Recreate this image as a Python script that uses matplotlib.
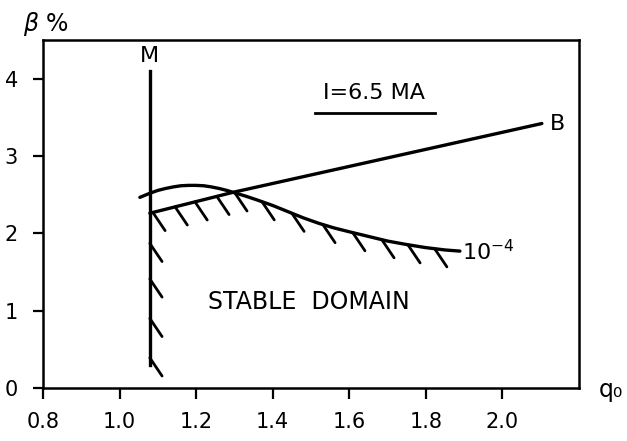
"""
Stability diagram: beta (%) versus q0 for I = 6.5 MA, with the stable domain hatched.
"""

import numpy as np
import matplotlib
matplotlib.use("Agg")
import matplotlib.pyplot as plt

# curve 10^-4 (q0, beta %)
q_curve = [1.053, 1.08, 1.10, 1.12, 1.14, 1.16, 1.18, 1.20, 1.22, 1.24, 1.26, 1.28, 1.30,
           1.33, 1.36, 1.40, 1.44, 1.48, 1.52, 1.56, 1.60, 1.65, 1.70, 1.75, 1.80, 1.85, 1.889]
b_curve = [2.465, 2.52, 2.555, 2.58, 2.60, 2.615, 2.62, 2.62, 2.615, 2.60, 2.58, 2.555, 2.525,
           2.48, 2.43, 2.36, 2.28, 2.20, 2.13, 2.07, 2.02, 1.96, 1.90, 1.855, 1.815, 1.785, 1.77]

# line B
q_line = [1.079, 1.296, 2.103]
b_line = [2.26, 2.53, 3.42]

# line M (vertical)
q_m = 1.079
b_m = [0.30, 4.10]

# hatch positions along the stable boundary
hatch_q = [1.087, 1.145, 1.197, 1.254, 1.301, 1.372, 1.450, 1.531, 1.609, 1.685, 1.753, 1.823]
hatch_b_m = [1.87, 1.41, 0.90, 0.39]

x_ticks = [0.8, 1.0, 1.2, 1.4, 1.6, 1.8, 2.0]
x_labels = ["0.8", "1.0", "1.2", "1.4", "1.6", "1.8", "2.0"]
y_ticks = [0, 1, 2, 3, 4]

# hatch stroke offset (data units)
HQ, HB = 0.032, -0.235

fig = plt.figure(figsize=(6.27, 4.41), dpi=100)
ax = fig.add_axes([0.0686, 0.1202, 0.8548, 0.7891])

ax.plot(q_curve, b_curve, color="black", lw=2.4, solid_capstyle="round", solid_joinstyle="round")
ax.plot(q_line, b_line, color="black", lw=2.4, solid_capstyle="round", solid_joinstyle="round")
ax.plot([q_m, q_m], b_m, color="black", lw=2.4)

# hatches on the lower envelope of line B and the 10^-4 curve
for q in hatch_q:
    b = min(np.interp(q, q_line, b_line), np.interp(q, q_curve, b_curve))
    ax.plot([q, q + HQ], [b, b + HB], color="black", lw=2.0, solid_capstyle="round")
for b in hatch_b_m:
    ax.plot([q_m, q_m + HQ], [b, b + HB], color="black", lw=2.0, solid_capstyle="round")

ax.set_xlim(0.8, 2.2)
ax.set_ylim(0, 4.5)
ax.set_xticks(x_ticks)
ax.set_xticklabels(x_labels)
ax.set_yticks(y_ticks)
ax.tick_params(axis="x", direction="out", length=8, width=1.6, labelsize=15, pad=9)
ax.tick_params(axis="y", direction="out", length=7, width=1.6, labelsize=15, pad=11)
for s in ax.spines.values():
    s.set_linewidth(1.8)

ax.text(q_m, 4.17, "M", ha="center", va="bottom", fontsize=16)
ax.text(2.125, 3.42, "B", ha="left", va="center", fontsize=16)
ax.text(1.895, 1.77, "10$^{-4}$", ha="left", va="center", fontsize=16)
ax.text(1.494, 1.11, "STABLE  DOMAIN", ha="center", va="center", fontsize=17)
ax.text(1.664, 3.81, "I=6.5 MA", ha="center", va="center", fontsize=16)
ax.plot([1.51, 1.823], [3.55, 3.55], color="black", lw=2.0)

fig.text(46 / 627, 1 - 24 / 441, r"$\beta$ %", ha="center", va="center", fontsize=17)
fig.text(611 / 627, 1 - 390 / 441, "q₀", ha="center", va="center", fontsize=17)

fig.savefig("out.png", dpi=100)
